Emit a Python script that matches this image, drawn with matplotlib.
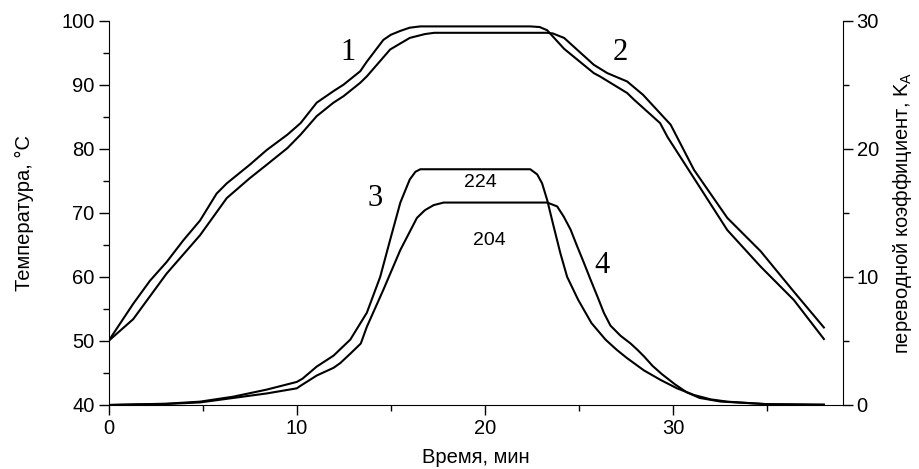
import matplotlib
matplotlib.use("Agg")
import matplotlib.pyplot as plt
from matplotlib.ticker import MultipleLocator

plt.rcParams['font.family'] = ['Liberation Sans', 'DejaVu Sans']
plt.rcParams['mathtext.fontset'] = 'custom'
plt.rcParams['mathtext.rm'] = 'Liberation Sans'
plt.rcParams['mathtext.it'] = 'Liberation Sans'

# Curve 1: temperature (left axis)
t1 = [0, 1.31, 2.2, 3.08, 3.97, 4.86, 5.74, 6.28, 7.5, 8.4, 9.5, 10.2, 11.06, 11.95,
      12.48, 13.37, 13.72, 14.6, 15.0, 15.5, 16.0, 16.56, 17.5, 22.4, 22.9, 23.3, 24.2,
      25.78, 26.1, 27.55, 27.9, 29.3, 29.7, 31.1, 32.87, 34.64, 36.4, 38.0]
T1 = [50, 55.8, 59.4, 62.3, 65.7, 68.8, 73.0, 74.6, 77.5, 79.8, 82.2, 84.0, 87.2, 89.0,
      90.0, 92.1, 93.6, 97.0, 97.8, 98.4, 98.9, 99.1, 99.1, 99.1, 99.0, 98.5, 95.6,
      91.8, 91.3, 88.7, 87.7, 84.0, 81.8, 75.4, 67.3, 61.6, 56.4, 50.3]

# Curve 2: temperature (left axis)
t2 = [0, 1.31, 3.08, 4.86, 6.28, 7.5, 8.4, 9.5, 10.2, 11.06, 11.95, 12.48, 13.37, 13.72,
      14.96, 16.0, 16.8, 17.3, 23.3, 23.6, 24.2, 25.78, 26.5, 27.55, 28.4, 29.86, 31.1,
      32.87, 34.64, 36.4, 38.0]
T2 = [50, 53.4, 60.5, 66.5, 72.3, 75.4, 77.5, 80.1, 82.2, 85.1, 87.2, 88.2, 90.3, 91.3,
      95.5, 97.3, 97.9, 98.1, 98.1, 98.0, 97.3, 93.1, 91.8, 90.5, 88.4, 83.75, 76.7,
      69.2, 64.0, 57.7, 52.1]

# Curve 3: coefficient K_A (right axis), label 224
t3 = [0, 3.08, 4.86, 6.63, 8.4, 10.0, 10.3, 11.06, 11.95, 12.84, 13.72, 14.43, 14.96,
      15.5, 16.0, 16.3, 16.56, 22.4, 22.77, 23.03, 23.3, 23.65, 24.0, 24.36, 24.95,
      25.65, 26.4, 27.0, 27.55, 28.44, 29.33, 30.2, 31.1, 31.98, 32.87, 35.0, 38.0]
K3 = [0, 0.1, 0.26, 0.65, 1.2, 1.8, 2.05, 3.0, 3.85, 5.1, 7.2, 10.0, 12.9,
      15.8, 17.6, 18.2, 18.4, 18.4, 18.0, 17.3, 16.0, 13.9, 11.85, 10.0, 8.2,
      6.4, 5.1, 4.3, 3.65, 2.7, 1.95, 1.3, 0.78, 0.44, 0.26, 0.06, 0.02]

# Curve 4: coefficient K_A (right axis), label 204
t4 = [0, 3.08, 4.86, 6.63, 8.4, 10.0, 10.2, 11.06, 11.95, 12.3, 12.84, 13.4, 13.72,
      14.6, 15.5, 16.38, 16.8, 17.27, 17.8, 23.3, 23.83, 24.18, 24.54, 24.89, 25.25,
      25.6, 25.96, 26.31, 26.66, 27.2, 27.73, 28.1, 28.44, 28.9, 29.4, 30.1, 30.7,
      31.4, 32.5, 35.0, 38.0]
K4 = [0, 0.08, 0.2, 0.55, 0.9, 1.3, 1.5, 2.3, 2.9, 3.26, 4.0, 4.8, 6.1,
      9.0, 12.1, 14.6, 15.2, 15.6, 15.8, 15.8, 15.5, 14.7, 13.7, 12.4, 11.1,
      9.8, 8.5, 7.2, 6.2, 5.4, 4.8, 4.3, 3.8, 3.05, 2.4, 1.6, 1.0,
      0.55, 0.27, 0.06, 0.02]

curve_labels = ["1", "2", "3", "4"]
curve_label_pos = [(12.73, 95.0), (27.2, 95.0), (14.17, 72.3), (26.2, 61.7)]
peak_labels = ["224", "204"]
peak_label_pos = [(19.75, 74.8), (20.23, 65.6)]

fig = plt.figure(figsize=(9.2, 4.69), dpi=100)
ax = fig.add_axes([0.118, 0.1365, 0.798, 0.8195])
ax2 = ax.twinx()

lw = 1.5
for a, (xs, ys) in ((ax, (t1, T1)), (ax, (t2, T2)), (ax2, (t3, K3)), (ax2, (t4, K4))):
    a.plot(xs, ys, color='black', lw=lw, solid_joinstyle='round')

ax.set_xlim(0, 39)
ax.set_ylim(40, 100)
ax2.set_ylim(0, 30)

for a in (ax, ax2):
    a.spines['top'].set_visible(False)
ax.spines['right'].set_visible(False)
ax2.spines['left'].set_visible(False)
ax2.spines['bottom'].set_visible(False)

ax.xaxis.set_major_locator(MultipleLocator(10))
ax.xaxis.set_minor_locator(MultipleLocator(5))
ax.yaxis.set_major_locator(MultipleLocator(10))
ax.yaxis.set_minor_locator(MultipleLocator(5))
ax2.yaxis.set_major_locator(MultipleLocator(10))
ax2.yaxis.set_minor_locator(MultipleLocator(5))

fs = 14.5
for a in (ax, ax2):
    a.tick_params(which='major', length=7, width=1, labelsize=fs, direction='out', pad=3)
    a.tick_params(which='minor', length=4, width=1, direction='out')

ax.set_xlabel("Время, мин", fontsize=fs, labelpad=7)
ax.set_ylabel("Температура, °C", fontsize=fs, labelpad=20)
ax2.set_ylabel("переводной коэффициент, $\\mathregular{K_A}$", fontsize=fs, labelpad=9)

for s, (x, y) in zip(curve_labels, curve_label_pos):
    ax.text(x, y, s, family=['Liberation Serif', 'DejaVu Serif'], fontsize=22,
            ha='center', va='center')
for s, (x, y) in zip(peak_labels, peak_label_pos):
    ax.text(x, y, s, fontsize=14, ha='center', va='center')

fig.savefig("out.png", dpi=100)
